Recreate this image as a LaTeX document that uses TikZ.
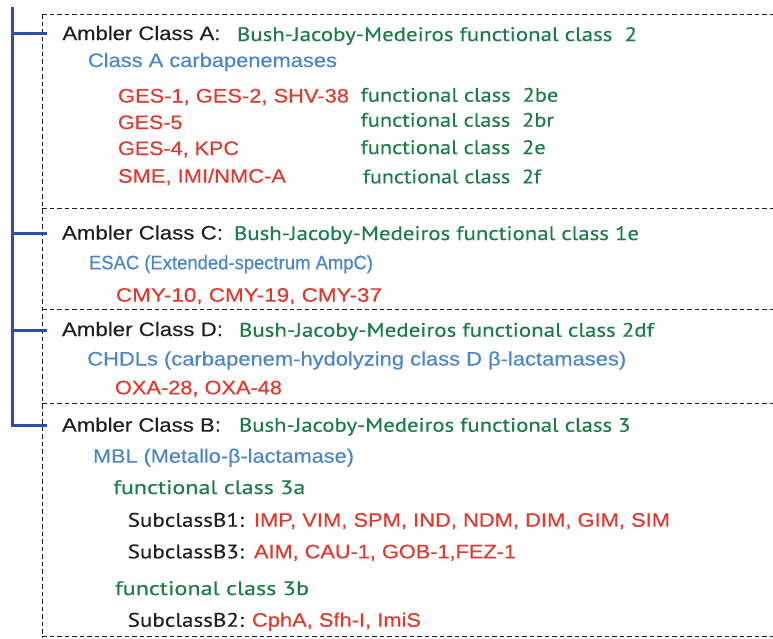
\documentclass[tikz,border=0pt]{standalone}
\usepackage{fontspec}
\setmainfont[FakeBold=0.3]{Liberation Sans}
\newfontfamily\myr[FakeBold=0.3]{PT Sans}
\definecolor{tblack}{HTML}{231F20}
\definecolor{tgreen}{HTML}{1E7B4B}
\definecolor{tblue}{HTML}{4A86C8}
\definecolor{tred}{HTML}{E0392D}
\definecolor{lblue}{HTML}{2D4FA8}
\newcommand{\fitw}[2]{\resizebox{#1pt}{\height}{#2}}
\tikzset{
  lbl/.style={anchor=base west, inner sep=0pt, outer sep=0pt, font=\fontsize{19.5}{22}\selectfont},
  hd/.style={lbl, text=tblack},
  gr/.style={lbl, text=tgreen, font=\fontsize{19.5}{22}\selectfont\myr},
  bl/.style={lbl, text=tblue},
  rd/.style={lbl, text=tred},
  sub/.style={lbl, text=tblack, font=\fontsize{19.5}{22}\selectfont\myr},
  sep/.style={draw=tblack, line width=0.9pt, dash pattern=on 4.5pt off 3pt},
  tree/.style={draw=lblue, line width=3pt}
}
\begin{document}
\begin{tikzpicture}[x=1pt,y=-1pt]
\useasboundingbox (0,0) rectangle (773,638);
\fill[white] (0,0) rectangle (773,638);

% dashed frame
\coordinate (f0) at (42,14);
\coordinate (f0r) at (773,14);
\coordinate (f1) at (42,208);
\coordinate (f1r) at (773,208);
\coordinate (f2) at (42,309.5);
\coordinate (f2r) at (773,309.5);
\coordinate (f3) at (42,403);
\coordinate (f3r) at (773,403);
\coordinate (f4) at (42,636.5);
\coordinate (f4r) at (773,636.5);
\coordinate (fb) at (42,638);
\draw[sep] (f0) -- (f0r);
\draw[sep] (f1) -- (f1r);
\draw[sep] (f2) -- (f2r);
\draw[sep] (f3) -- (f3r);
\draw[sep] (f4) -- (f4r);
\draw[sep] (f0) -- (fb);

% Section A
\node[hd] (a1) at (62.5,40) {\fitw{158}{Ambler Class A:}};
\node[gr] (a2) at (237,41) {\fitw{400}{Bush-Jacoby-Medeiros functional class\ \ 2}};
\node[bl] (a3) at (88,67) {\fitw{249}{Class A carbapenemases}};
\node[rd] (a4) at (118,102.5) {\fitw{231}{GES-1, GES-2, SHV-38}};
\node[rd] (a5) at (118,129) {\fitw{64.5}{GES-5}};
\node[rd] (a6) at (118,155) {\fitw{121}{GES-4, KPC}};
\node[rd] (a7) at (118,182.7) {\fitw{168}{SME, IMI/NMC-A}};
\node[gr] (a8) at (360.7,101.7) {\fitw{197.6}{functional class\ \ 2be}};
\node[gr] (a9) at (360.7,126.7) {\fitw{193.3}{functional class\ \ 2br}};
\node[gr] (a10) at (360.7,154) {\fitw{185}{functional class\ \ 2e}};
\node[gr] (a11) at (363,183.3) {\fitw{178}{functional class\ \ 2f}};

% Section C
\node[hd] (c1) at (62,239.5) {\fitw{161}{Ambler Class C:}};
\node[gr] (c2) at (234,240) {\fitw{405}{Bush-Jacoby-Medeiros functional class 1e}};
\node[bl] (c3) at (89,269.3) {\fitw{284}{ESAC (Extended-spectrum AmpC)}};
\node[rd] (c4) at (116,301.7) {\fitw{266}{CMY-10, CMY-19, CMY-37}};

% Section D
\node[hd] (d1) at (62,336) {\fitw{161}{Ambler Class D:}};
\node[gr] (d2) at (239,336.7) {\fitw{415}{Bush-Jacoby-Medeiros functional class 2df}};
\node[bl] (d3) at (87.3,365.5) {\fitw{539}{CHDLs (carbapenem-hydolyzing class D β-lactamases)}};
\node[rd] (d4) at (115,394.3) {\fitw{167}{OXA-28, OXA-48}};

% Section B
\node[hd] (b1) at (62,431.7) {\fitw{159}{Ambler Class B:}};
\node[gr] (b2) at (239,431.7) {\fitw{391.5}{Bush-Jacoby-Medeiros functional class 3}};
\node[bl] (b3) at (93,462.7) {\fitw{261}{MBL (Metallo-β-lactamase)}};
\node[gr] (b4) at (113.3,494) {\fitw{192}{functional class 3a}};
\node[sub] (b5) at (127.7,526.7) {\fitw{116.3}{SubclassB1:}};
\node[rd] (b6) at (254,526.7) {\fitw{416}{IMP, VIM, SPM, IND, NDM, DIM, GIM, SIM}};
\node[sub] (b7) at (127.7,558.3) {\fitw{116.3}{SubclassB3:}};
\node[rd] (b8) at (254,558.3) {\fitw{262}{AIM, CAU-1, GOB-1,FEZ-1}};
\node[gr] (b9) at (115,595) {\fitw{194}{functional class 3b}};
\node[sub] (b10) at (127.7,626.7) {\fitw{116.3}{SubclassB2:}};
\node[rd] (b11) at (252,626.7) {\fitw{169}{CphA, Sfh-I, ImiS}};

% tree connector
\coordinate (t0) at (12,7);
\coordinate (tA) at (12,33.7);
\coordinate (tC) at (12,233);
\coordinate (tD) at (12,330);
\coordinate (tB) at (12,425.5);
\coordinate (eA) at (47,33.7);
\coordinate (eC) at (47,233);
\coordinate (eD) at (47,330);
\coordinate (eB) at (47,425.5);
\draw[tree] (t0) -- (tB) -- (eB);
\draw[tree] (tA) -- (eA);
\draw[tree] (tC) -- (eC);
\draw[tree] (tD) -- (eD);
\end{tikzpicture}
\end{document}
